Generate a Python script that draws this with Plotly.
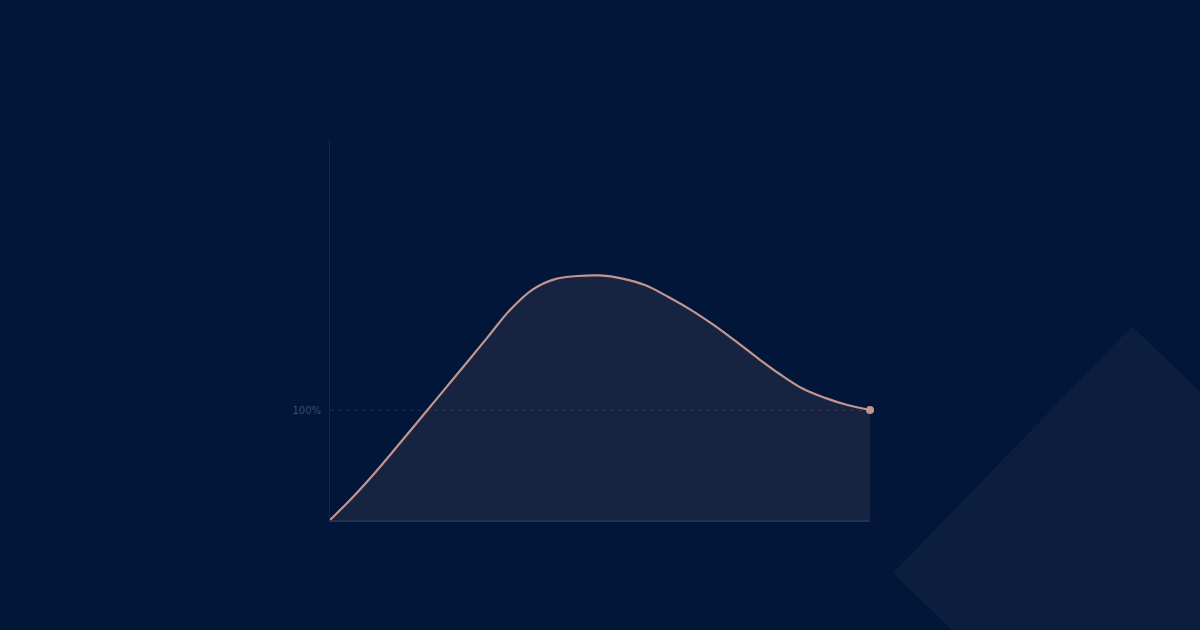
import plotly.graph_objects as go

# data (x hidden, y in %)
steps = [0, 0.5, 1, 1.5, 2, 2.5, 3, 3.5, 4, 4.5, 5, 5.5, 6,
         6.5, 7, 7.5, 8, 8.5, 9, 9.5, 10, 10.5, 11, 11.5, 12]
growth_pct = [0, 20.5, 43.0, 67.2, 91.8, 116.5, 141.2, 166.0, 190.9, 209.5, 219.0, 221.8, 222.3,
              219.5, 213.6, 203.2, 191.5, 178.0, 163.0, 147.3, 132.5, 119.5, 111.0, 104.5, 100]
tick_vals = [100]
tick_text = ["100%"]

BG = "#011638"
ROSE = "#c4958f"

fig = go.Figure()

# filled curve
fig.add_trace(go.Scatter(
    x=steps, y=growth_pct,
    mode="lines",
    line=dict(color=ROSE, width=2.2, shape="spline", smoothing=1),
    fill="tozeroy",
    fillcolor="rgba(196,149,143,0.115)",
    hoverinfo="skip",
))

# end dot
fig.add_trace(go.Scatter(
    x=[steps[-1]], y=[growth_pct[-1]],
    mode="markers",
    marker=dict(color=ROSE, size=8),
    cliponaxis=False,
    hoverinfo="skip",
))

# decorative diamond in the lower right
fig.add_shape(
    type="path",
    xref="paper", yref="paper",
    path="M 1.4852 0.5105 L 1.0426 -0.1395 L 1.5 -0.768 L 1.9426 -0.118 Z",
    fillcolor="#0b1f3d",
    line=dict(width=0),
    layer="below",
)

fig.update_layout(
    width=1200, height=630,
    paper_bgcolor=BG,
    plot_bgcolor=BG,
    showlegend=False,
    margin=dict(l=330, r=330, t=140, b=110),
    font=dict(family="DejaVu Sans", color="#3d4d6b", size=10),
)

fig.update_xaxes(
    range=[0, 12],
    showgrid=False,
    zeroline=False,
    showticklabels=False,
    showline=True,
    linecolor="#223254",
    linewidth=2,
)

fig.update_yaxes(
    range=[0, 345.45],
    tickvals=tick_vals,
    ticktext=tick_text,
    showgrid=True,
    gridcolor="#1a2a4a",
    griddash="4px,4px",
    gridwidth=1,
    zeroline=False,
    showline=True,
    linecolor="#17264a",
    linewidth=1,
    ticks="",
    ticklabelstandoff=6,
)

fig.write_html(
    "out.html",
    config={"displayModeBar": False},
    post_script="document.body.style.margin='0';document.body.style.background='#011638';",
)
